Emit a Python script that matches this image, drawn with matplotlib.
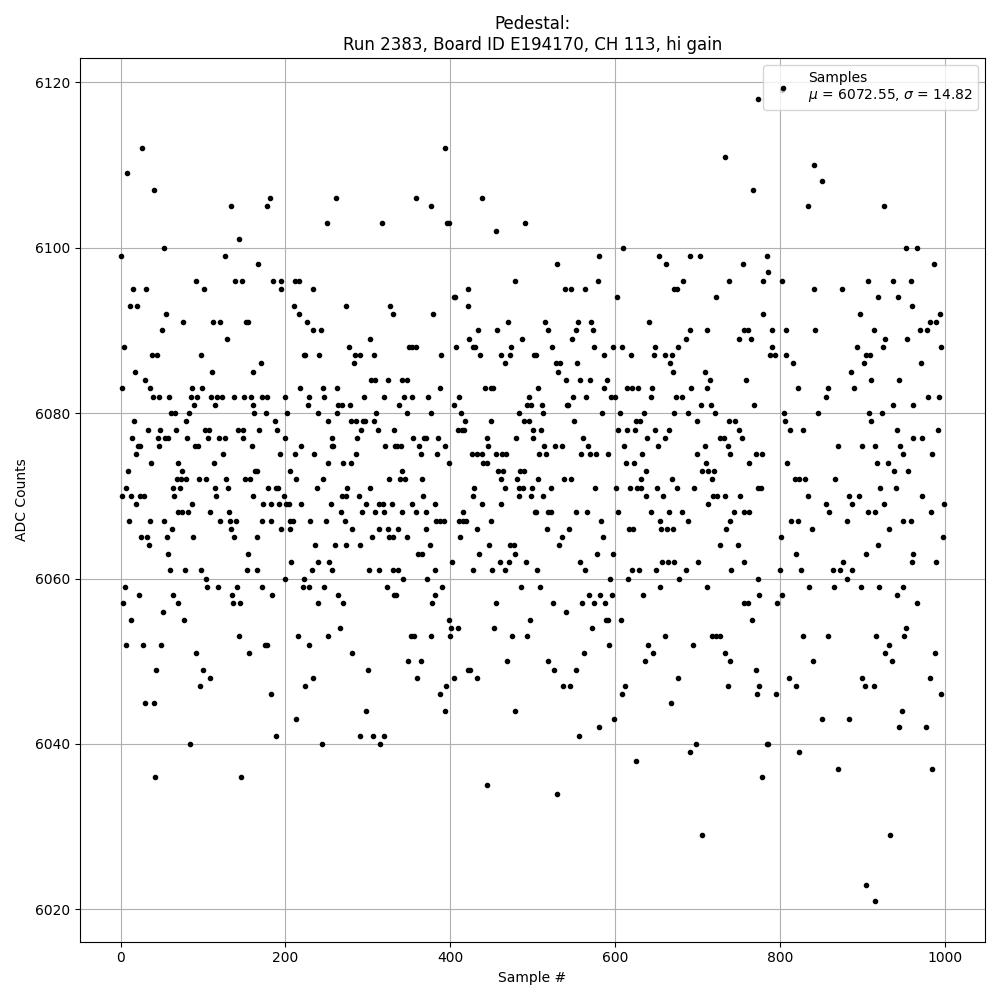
import matplotlib
matplotlib.use("Agg")
import matplotlib.pyplot as plt

# (sample #, ADC counts)
sample_a = [26,8,40,134,144,53,0,127,91,139,147,15,31,101,11,20,55,76,112,120,152,154,50,129,4,38,44,97,17,111,161,29,1,36,87,99,39,46,59,85,93,110,117,123,137,150,158,89,114,161,61,66,83,162,16,79,33,48,67,102,107,142,148,14,45,54,57,81,106,119,127,149,21,23,47,90,94,159,19,124,37,70,113,9,74,163,68,73,79,95,104,128,151,157,6,63,72,115,130]
adc_a = [6112,6109,6107,6105,6101,6100,6099,6099,6096,6096,6096,6095,6095,6095,6093,6093,6092,6091,6091,6091,6091,6091,6090,6089,6088,6087,6087,6087,6085,6085,6085,6084,6083,6083,6083,6083,6082,6082,6082,6082,6082,6082,6082,6082,6082,6082,6082,6081,6081,6081,6080,6080,6080,6080,6079,6079,6078,6078,6078,6078,6078,6078,6078,6077,6077,6077,6077,6077,6077,6077,6077,6077,6076,6076,6076,6076,6076,6076,6075,6075,6074,6074,6074,6073,6073,6073,6072,6072,6072,6072,6072,6072,6072,6072,6071,6071,6071,6071,6071]

sample_b = [2,12,23,28,65,116,160,18,87,70,75,82,108,131,10,35,52,121,133,140,62,134,25,32,56,88,138,34,58,155,60,78,98,153,104,5,105,118,141,22,64,135,3,69,136,145,51,13,77,144,7,27,49,91,156,43,100,108,96,30,41,84,42,146]
adc_b = [6070,6070,6070,6070,6070,6070,6070,6069,6069,6068,6068,6068,6068,6068,6067,6067,6067,6067,6067,6067,6066,6066,6065,6065,6065,6065,6065,6064,6063,6063,6061,6061,6061,6061,6060,6059,6059,6059,6059,6058,6058,6058,6057,6057,6057,6057,6056,6055,6055,6053,6052,6052,6052,6051,6051,6049,6049,6048,6047,6045,6045,6040,6036,6036]

sample_c = [181,177,261,250,317,167,185,195,212,216,194,233,210,273,327,217,331,226,234,243,303,277,222,224,241,284,291,308,170,283,304,309,325,218,246,263,171,178,200,229,247,295,320,227,264,269,278,176,202,240,262,310,187,252,280,285,294,297,307,168,190,292,312,332,199,257,287,219,256,258,321,333,193,211,235,286,251,270,279,165,206,213,245,326,179,188,191,238,275,302]
adc_c = [6106,6105,6106,6103,6103,6098,6096,6096,6096,6096,6095,6095,6093,6093,6093,6092,6092,6091,6090,6090,6089,6088,6087,6087,6087,6087,6087,6087,6086,6086,6084,6084,6084,6083,6083,6083,6082,6082,6082,6082,6082,6082,6082,6081,6081,6081,6081,6080,6080,6080,6080,6080,6079,6079,6079,6079,6079,6079,6079,6078,6078,6078,6078,6078,6077,6077,6077,6076,6076,6076,6076,6076,6075,6075,6075,6075,6074,6074,6074,6073,6073,6072,6072,6072,6071,6071,6071,6071,6071,6071]

sample_d = [198,268,274,289,173,182,192,201,204,219,255,298,313,318,329,267,293,309,319,172,183,205,209,230,249,272,195,206,281,314,324,166,305,326,331,236,260,274,290,207,239,253,166,232,257,301,314,330,200,223,172,221,229,247,323,184,264,332,240,270,266,215,252,175,178,228,281,300,234,224,183,298,213,189,290,306,320,244,315]
adc_d = [6070,6070,6070,6070,6069,6069,6069,6069,6069,6069,6069,6069,6069,6069,6069,6068,6068,6068,6068,6067,6067,6067,6067,6067,6067,6067,6066,6066,6066,6066,6066,6065,6065,6065,6065,6064,6064,6064,6064,6062,6062,6062,6061,6061,6061,6061,6061,6061,6060,6060,6059,6059,6059,6059,6059,6058,6058,6058,6057,6057,6054,6053,6053,6052,6052,6052,6051,6049,6048,6047,6046,6044,6043,6041,6041,6041,6041,6040,6040]

sample_e = [393,359,377,439,396,399,456,491,478,422,404,406,421,379,470,434,457,423,487,350,353,358,407,427,430,474,389,436,462,473,502,467,341,347,388,442,450,452,344,354,373,410,496,338,405,493,498,348,376,413,484,418,449,490,495,409,414,417,501,355,368,371,385,444,480,500,335,340,362,394,446,365,384,426,432,438,455,463,468,399,440,445,342,458,464,485,489,339,345,366,462,481,429,467,483,488,499]
adc_e = [6112,6106,6105,6106,6103,6103,6102,6103,6096,6095,6094,6094,6093,6092,6091,6090,6090,6089,6089,6088,6088,6088,6088,6088,6088,6088,6087,6087,6087,6087,6087,6086,6084,6084,6083,6083,6083,6083,6082,6082,6082,6082,6082,6081,6081,6081,6081,6080,6080,6080,6080,6079,6079,6079,6079,6078,6078,6078,6078,6077,6077,6077,6077,6077,6077,6077,6076,6076,6076,6076,6076,6075,6075,6075,6075,6075,6075,6075,6075,6074,6074,6074,6073,6073,6073,6073,6073,6072,6072,6072,6072,6072,6071,6071,6071,6071,6071]

sample_f = [367,428,484,498,354,382,439,461,341,359,371,416,503,383,388,392,411,415,419,449,336,370,433,348,412,375,447,472,477,361,366,435,479,402,460,471,492,337,381,428,451,466,343,372,390,486,334,382,378,455,398,497,401,409,453,352,356,377,400,475,493,349,364,469,421,424,360,405,433,395,387,394,479,445]
adc_f = [6070,6070,6070,6070,6069,6069,6069,6069,6068,6068,6068,6068,6068,6067,6067,6067,6067,6067,6067,6067,6066,6066,6066,6065,6065,6064,6064,6064,6064,6063,6063,6063,6063,6062,6062,6062,6062,6061,6061,6061,6061,6061,6060,6060,6059,6059,6058,6058,6057,6057,6055,6055,6054,6054,6054,6053,6053,6053,6053,6053,6053,6050,6050,6050,6049,6049,6048,6048,6048,6047,6046,6044,6044,6035]

sample_g = [610,581,653,530,662,539,547,564,579,672,602,515,555,571,641,519,552,573,548,524,575,598,609,649,504,587,619,647,661,528,533,554,667,531,670,541,558,570,590,507,586,615,621,628,645,549,565,595,600,643,511,542,543,513,584,606,635,672,550,626,630,510,604,614,624,648,666,561,639,660,514,527,536,567,611,652,508,516,559,569,577,592,633,613,623,638,506,538,546,632,669,522,576,601,618,627,631,651]
adc_g = [6100,6099,6099,6098,6098,6095,6095,6095,6096,6095,6094,6091,6091,6091,6091,6090,6090,6090,6089,6088,6088,6088,6088,6088,6087,6087,6087,6087,6087,6086,6086,6086,6086,6085,6085,6084,6084,6084,6084,6083,6083,6083,6083,6083,6083,6082,6082,6082,6082,6082,6081,6081,6081,6080,6080,6080,6080,6080,6079,6079,6079,6078,6078,6078,6078,6078,6078,6077,6077,6077,6076,6076,6076,6076,6076,6076,6075,6075,6075,6075,6075,6075,6075,6074,6074,6073,6072,6072,6072,6072,6072,6071,6071,6071,6071,6071,6071,6071]

sample_h = [512,637,658,504,518,522,553,566,603,644,665,583,654,517,544,617,622,656,663,670,535,585,532,578,597,557,657,664,671,505,563,620,629,650,594,616,509,655,568,582,596,634,525,560,574,588,540,589,591,607,572,660,593,640,562,646,518,636,526,552,537,545,612,608,668,599,580,556,625,529]
adc_h = [6070,6070,6070,6068,6068,6068,6068,6068,6068,6068,6068,6067,6067,6066,6066,6066,6066,6066,6066,6066,6065,6065,6064,6063,6063,6062,6062,6062,6062,6061,6061,6061,6061,6061,6060,6060,6059,6059,6058,6058,6058,6058,6057,6057,6057,6057,6056,6055,6055,6055,6054,6053,6052,6052,6051,6051,6050,6050,6049,6049,6047,6047,6047,6046,6045,6043,6042,6041,6038,6034]

sample_i = [691,703,682,675,723,712,691,686,676,669,709,715,692,711,674,681,704,717,688,721,699,727,709,700,710,705,713,718,675,696,719,724,713,681,688,727,701,686,678,712,722,694,676,698,691,705]
adc_i = [6099,6099,6096,6095,6094,6090,6090,6089,6088,6087,6085,6084,6083,6083,6082,6082,6081,6081,6080,6080,6079,6077,6076,6075,6074,6073,6073,6072,6071,6071,6070,6070,6069,6068,6067,6064,6062,6061,6060,6059,6053,6052,6048,6040,6039,6029]

sample_j = [733,767,755,786,738,779,780,761,757,751,765,794,759,768,738,745,750,732,754,737,740,771,778,762,720,774,777,734,752,744,756,763,739,735,749,756,741,773,775,756,761,766,718,727,734,771,740,737,775,772,784,778]
adc_j = [6111,6107,6098,6097,6096,6096,6092,6090,6090,6089,6089,6087,6084,6081,6079,6079,6078,6077,6077,6076,6075,6075,6075,6074,6073,6071,6071,6070,6070,6068,6068,6068,6067,6066,6064,6062,6061,6060,6058,6057,6057,6055,6053,6053,6051,6049,6050,6047,6047,6046,6040,6036]

sample_k = [803,773,842,851,834,784,803,842,791,808,843,791,788,807,816,822,859,856,805,846,806,812,828,871,809,818,823,831,867,834,856,860,813,822,839,801,820,877,800,826,865,873,881,835,866,802,797,828,859,840,811,820,795,851,884,785,823,871]
adc_k = [6119,6118,6110,6108,6105,6099,6096,6095,6090,6090,6090,6088,6087,6087,6086,6083,6083,6082,6080,6080,6079,6078,6078,6076,6074,6072,6072,6072,6072,6070,6069,6068,6067,6067,6066,6065,6063,6062,6061,6061,6061,6061,6060,6059,6059,6058,6057,6053,6053,6050,6048,6047,6046,6043,6043,6040,6039,6037]

sample_l = [926,953,967,987,907,937,959,875,919,943,960,897,994,982,990,914,970,979,927,954,894,925,904,909,902,971,886,911,945,890,980,993,937,961,908,924,910,942,992,962,972,900,916,946,949,985,918,931,938,956,921,941,884,896,973,888,926,907,915,983,882,950,959,932,919,904,961,960,990,887,899,920,949,942,966,953,917,951,932,928,988,936,900,982,903,914,995,948,944,977,985,934,904,916,996,998,999]
adc_l = [6105,6100,6100,6098,6096,6096,6096,6095,6094,6094,6093,6092,6092,6091,6091,6090,6090,6090,6089,6089,6088,6088,6087,6087,6086,6086,6085,6084,6084,6083,6082,6082,6081,6081,6080,6080,6079,6078,6078,6077,6077,6076,6076,6076,6075,6075,6074,6074,6073,6073,6071,6071,6070,6070,6070,6069,6069,6068,6068,6068,6067,6067,6067,6066,6064,6063,6063,6062,6062,6061,6059,6059,6059,6058,6057,6054,6053,6053,6052,6051,6051,6050,6048,6048,6047,6047,6046,6044,6042,6042,6037,6029,6023,6021,6088,6065,6069]

samples = (sample_a + sample_b + sample_c + sample_d + sample_e + sample_f
           + sample_g + sample_h + sample_i + sample_j + sample_k + sample_l)
adc = (adc_a + adc_b + adc_c + adc_d + adc_e + adc_f
       + adc_g + adc_h + adc_i + adc_j + adc_k + adc_l)

mu = 6072.55
sigma = 14.82

fig, ax = plt.subplots(figsize=(10, 10), dpi=100)
ax.plot(samples, adc, '.', color='black', linestyle='none',
        label=f'Samples\n$\\mu$ = {mu:.2f}, $\\sigma$ = {sigma:.2f}')
ax.set_title('Pedestal:\nRun 2383, Board ID E194170, CH 113, hi gain')
ax.set_xlabel('Sample #')
ax.set_ylabel('ADC Counts')
ax.grid(True)
ax.legend(loc='upper right')
ax.set_xlim(-49.95, 1048.95)
ax.set_ylim(6016.1, 6122.9)
fig.tight_layout()
fig.savefig('out.png')
